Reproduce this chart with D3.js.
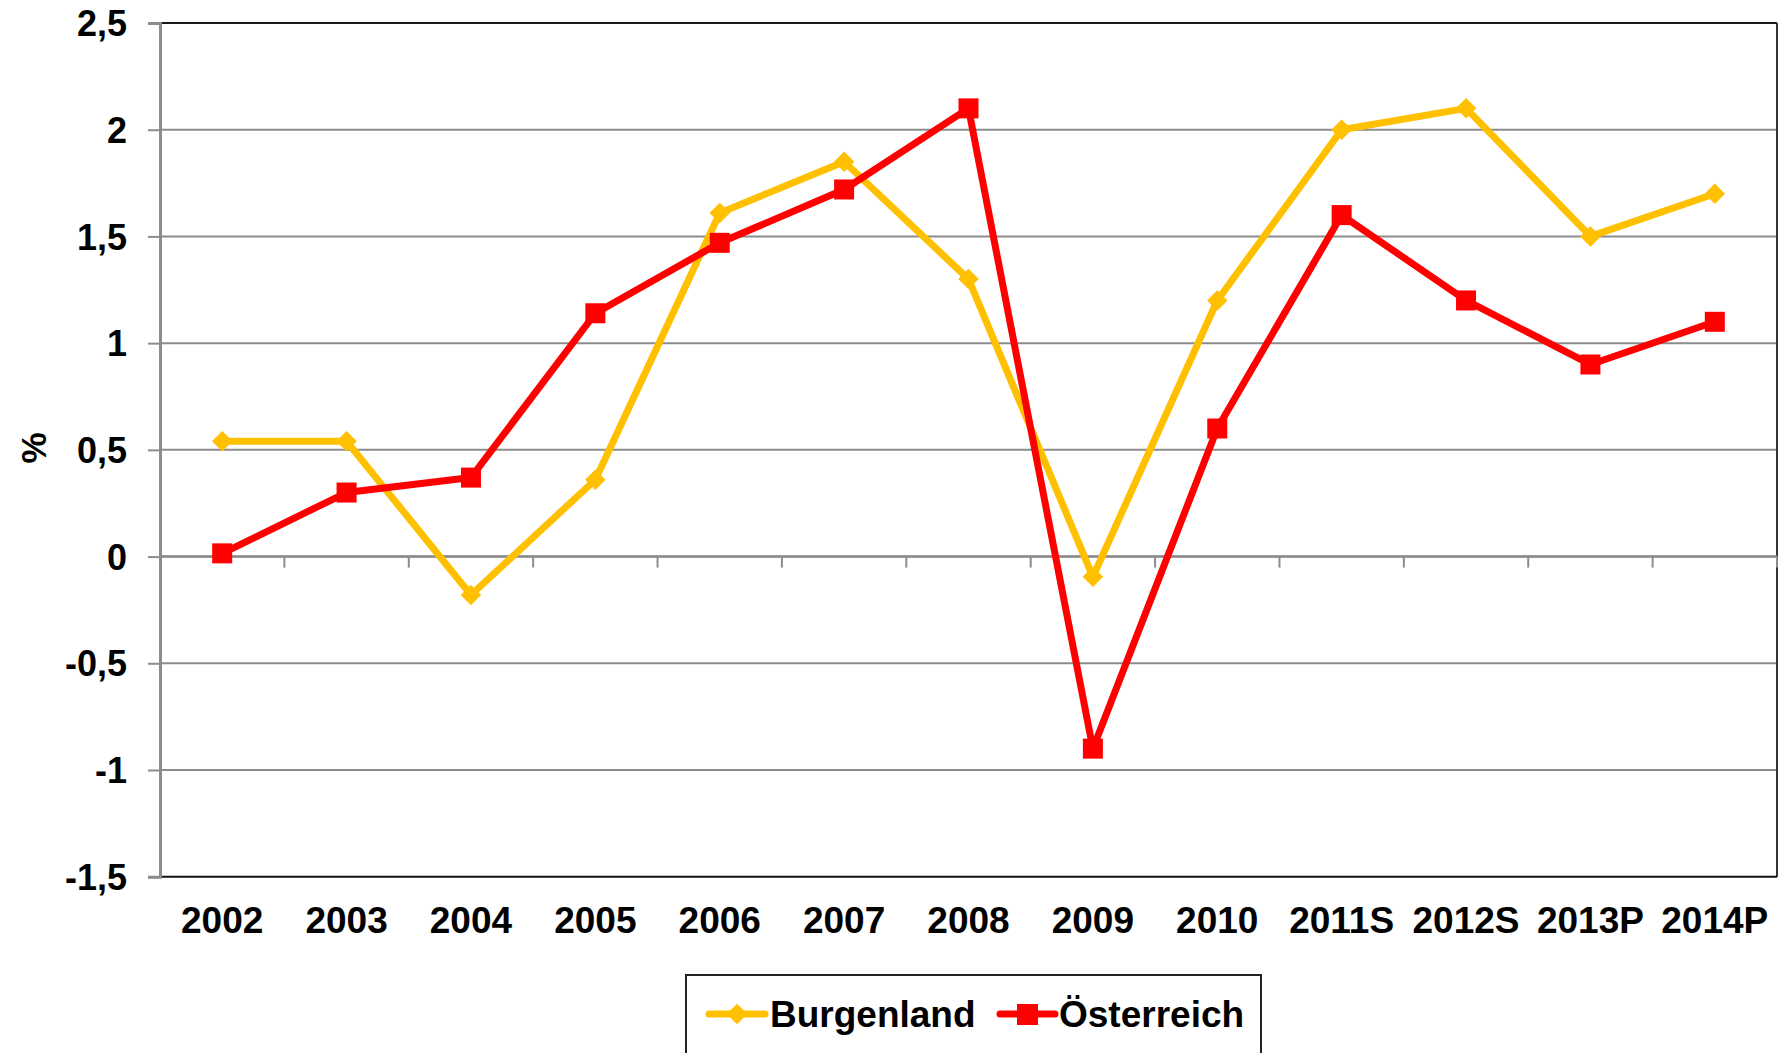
<!DOCTYPE html>
<html>
<head>
<meta charset="utf-8">
<script src="https://cdn.jsdelivr.net/npm/d3@7/dist/d3.min.js"></script>
<style>
  html, body { margin: 0; padding: 0; background: #fff; }
  svg { display: block; }
  text { font-family: "Liberation Sans", Arial, sans-serif; font-weight: bold; fill: #000; }
</style>
</head>
<body>
<svg id="chart" width="1780" height="1053"></svg>
<script>
const categories = ["2002","2003","2004","2005","2006","2007","2008","2009","2010","2011S","2012S","2013P","2014P"];
const burgenland = [0.54, 0.54, -0.18, 0.36, 1.61, 1.85, 1.30, -0.095, 1.20, 2.00, 2.10, 1.50, 1.70];
const oesterreich = [0.015, 0.30, 0.37, 1.14, 1.47, 1.72, 2.10, -0.90, 0.60, 1.60, 1.20, 0.90, 1.10];
const yTicks = [-1.5, -1, -0.5, 0, 0.5, 1, 1.5, 2, 2.5];
const yTickLabels = ["-1,5", "-1", "-0,5", "0", "0,5", "1", "1,5", "2", "2,5"];
const seriesNames = ["Burgenland", "Österreich"];
const yLabel = "%";

(function () {
const svg = d3.select("#chart");
const pLeft = 160, pRight = 1777, pTop = 23, pBottom = 876.7;

const x = d3.scaleBand().domain(categories).range([pLeft, pRight]);
const y = d3.scaleLinear().domain([-1.5, 2.5]).range([pBottom, pTop]);
const cx = c => x(c) + x.bandwidth() / 2;

const gridColor = "#8c8c8c";

// gridlines
svg.append("g").selectAll("line").data(yTicks.filter(t => t > -1.5 && t < 2.5)).join("line")
  .attr("x1", pLeft).attr("x2", pRight)
  .attr("y1", d => y(d)).attr("y2", d => y(d))
  .attr("stroke", gridColor).attr("stroke-width", 2);

// plot border: top, right, bottom
svg.append("line").attr("x1", pLeft).attr("x2", pRight).attr("y1", y(2.5)).attr("y2", y(2.5))
  .attr("stroke", "#1a1a1a").attr("stroke-width", 2);
svg.append("line").attr("x1", pRight).attr("x2", pRight).attr("y1", y(2.5)).attr("y2", y(-1.5))
  .attr("stroke", "#333").attr("stroke-width", 2);
svg.append("line").attr("x1", pLeft).attr("x2", pRight).attr("y1", y(-1.5)).attr("y2", y(-1.5))
  .attr("stroke", "#111").attr("stroke-width", 2);

// y axis
const yAxis = d3.axisLeft(y).tickValues(yTicks).tickSize(12)
  .tickFormat((d, i) => yTickLabels[i]);
const ya = svg.append("g").attr("transform", `translate(${pLeft},0)`).call(yAxis);
ya.select(".domain").attr("stroke", gridColor).attr("stroke-width", 3);
ya.selectAll(".tick line").attr("stroke", gridColor).attr("stroke-width", 2);
ya.selectAll(".tick text").attr("x", -33).attr("dy", "0.35em")
  .style("font-size", "36px").style("font-family", "'Liberation Sans', Arial, sans-serif")
  .style("font-weight", "bold").attr("fill", "#000");

// x axis at zero line with ticks at category boundaries
const bounds = categories.slice(1).map(c => x(c));
bounds.push(pRight);
svg.append("line").attr("x1", pLeft).attr("x2", pRight).attr("y1", y(0)).attr("y2", y(0))
  .attr("stroke", gridColor).attr("stroke-width", 2.5);
svg.append("g").selectAll("line").data(bounds).join("line")
  .attr("x1", d => d).attr("x2", d => d)
  .attr("y1", y(0)).attr("y2", y(0) + 11)
  .attr("stroke", gridColor).attr("stroke-width", 2);

// x labels
svg.append("g").selectAll("text").data(categories).join("text")
  .attr("x", d => cx(d)).attr("y", 933)
  .attr("text-anchor", "middle").style("font-size", "37px")
  .text(d => d);

// y label
svg.append("text").attr("transform", "translate(46,448) rotate(-90)")
  .attr("text-anchor", "middle").style("font-size", "35px").text(yLabel);

// lines
const yellow = "#FFC000", red = "#FF0000";
const line = d3.line().x((d, i) => cx(categories[i])).y(d => y(d));

svg.append("path").datum(burgenland).attr("d", line)
  .attr("fill", "none").attr("stroke", yellow).attr("stroke-width", 7)
  .attr("stroke-linejoin", "round");
const diamond = d3.symbol().type(d3.symbolSquare).size(14.5 * 14.5);
svg.append("g").selectAll("path").data(burgenland).join("path")
  .attr("d", diamond)
  .attr("transform", (d, i) => `translate(${cx(categories[i])},${y(d)}) rotate(45)`)
  .attr("fill", yellow);

svg.append("path").datum(oesterreich).attr("d", line)
  .attr("fill", "none").attr("stroke", red).attr("stroke-width", 7)
  .attr("stroke-linejoin", "round");
svg.append("g").selectAll("rect").data(oesterreich).join("rect")
  .attr("x", (d, i) => cx(categories[i]) - 10).attr("y", d => y(d) - 10)
  .attr("width", 20).attr("height", 20).attr("fill", red);

// legend
const lg = svg.append("g");
lg.append("rect").attr("x", 686).attr("y", 975).attr("width", 575).attr("height", 100)
  .attr("fill", "#fff").attr("stroke", "#222").attr("stroke-width", 2);
const ly = 1014;
lg.append("line").attr("x1", 709).attr("x2", 765).attr("y1", ly).attr("y2", ly)
  .attr("stroke", yellow).attr("stroke-width", 7).attr("stroke-linecap", "round");
lg.append("path").attr("d", diamond).attr("transform", `translate(737,${ly}) rotate(45)`).attr("fill", yellow);
lg.append("text").attr("x", 770).attr("y", 1027).style("font-size", "37px").text(seriesNames[0]);
lg.append("line").attr("x1", 1000).attr("x2", 1055).attr("y1", ly).attr("y2", ly)
  .attr("stroke", red).attr("stroke-width", 7).attr("stroke-linecap", "round");
lg.append("rect").attr("x", 1017).attr("y", ly - 10).attr("width", 21).attr("height", 21).attr("fill", red);
lg.append("text").attr("x", 1059).attr("y", 1027).style("font-size", "37px").text(seriesNames[1]);
})();
</script>
</body>
</html>
